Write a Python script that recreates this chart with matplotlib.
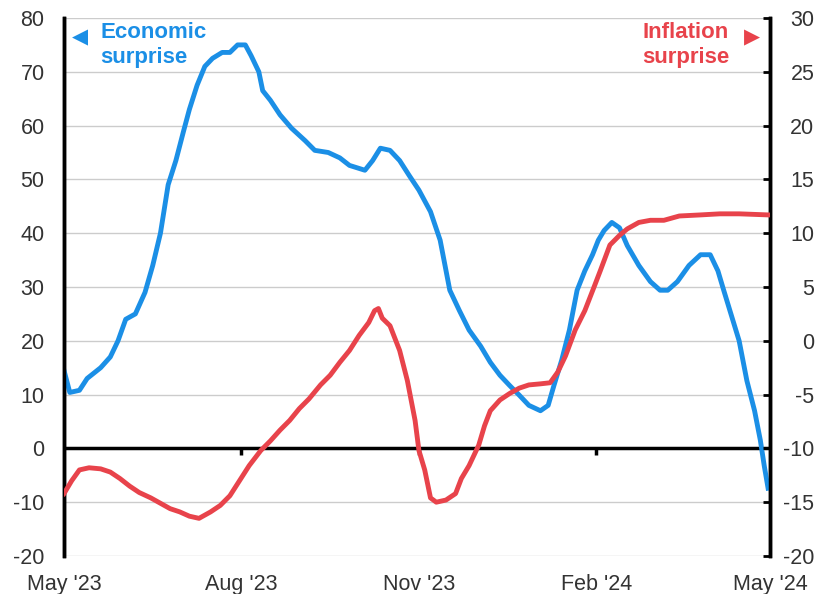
import matplotlib
matplotlib.use('Agg')
import matplotlib.pyplot as plt
import pandas as pd

plt.rcParams['font.family'] = ['Liberation Sans', 'DejaVu Sans']
plt.rcParams['axes.unicode_minus'] = False

start = pd.Timestamp('2023-05-01')

# Economic surprise (left axis), days since 1 May 2023
econ_days = [0, 3, 8, 12, 19, 24, 28, 32, 37, 42, 46, 50, 54, 58, 62, 65, 69, 73, 77, 82,
             86, 90, 94, 97, 101, 103, 107, 112, 118, 125, 130, 137, 143, 148, 156, 160,
             164, 169, 174, 179, 184, 190, 195, 200, 205, 210, 216, 221, 226, 231, 236,
             241, 247, 251, 254, 258, 262, 266, 270, 274, 277, 280, 284, 288, 292, 298,
             304, 309, 313, 318, 324, 330, 335, 339, 342, 346, 350, 354, 358, 361, 363, 365]
econ_vals = [14.5, 10.4, 10.8, 13, 15, 17, 20, 24, 25, 29, 34, 40, 49, 53.5, 59, 63, 67.5,
             71, 72.5, 73.6, 73.6, 75, 75, 73, 70, 66.5, 64.7, 62, 59.5, 57.2, 55.4, 55,
             54, 52.6, 51.7, 53.5, 55.8, 55.4, 53.5, 50.7, 48, 44, 38.7, 29.4, 25.6, 22, 19,
             16, 13.6, 11.7, 9.9, 8, 7, 8, 11.7, 16.4, 22, 29.4, 33, 36, 38.7, 40.5, 42, 41,
             37.7, 34, 31, 29.4, 29.4, 31, 34, 36, 36, 33, 29.4, 24.7, 20, 12.6, 7, 1.5,
             -3.2, -7.4]

# Inflation surprise (right axis), days since 1 May 2023
infl_days = [0, 4, 8, 13, 19, 24, 29, 34, 39, 45, 50, 55, 60, 65, 70, 76, 81, 86, 91, 96,
             102, 107, 112, 117, 122, 127, 133, 138, 143, 148, 153, 158, 161, 163, 165, 169,
             174, 178, 182, 184, 187, 190, 193, 198, 203, 206, 210, 215, 218, 221, 226, 231,
             236, 241, 247, 252, 256, 260, 265, 270, 275, 278, 283, 288, 292, 298, 304, 311,
             319, 330, 340, 350, 365]
infl_vals = [-14.2, -13, -12, -11.8, -11.9, -12.2, -12.8, -13.5, -14.1, -14.6, -15.1, -15.6,
             -15.9, -16.3, -16.5, -15.9, -15.3, -14.4, -13, -11.6, -10.2, -9.3, -8.3, -7.4,
             -6.3, -5.4, -4.1, -3.2, -2, -0.9, 0.5, 1.7, 2.8, 3.0, 2.1, 1.4, -0.9, -3.7, -7.4,
             -10.2, -12, -14.6, -15, -14.8, -14.2, -12.8, -11.6, -9.7, -7.9, -6.5, -5.5, -4.9,
             -4.4, -4.1, -4.0, -3.9, -2.9, -1.4, 1, 2.8, 5.1, 6.5, 8.9, 9.8, 10.4, 11, 11.2,
             11.2, 11.6, 11.7, 11.8, 11.8, 11.7]

tick_dates = ['2023-05-01', '2023-08-01', '2023-11-01', '2024-02-01', '2024-05-01']
tick_labels = ["May '23", "Aug '23", "Nov '23", "Feb '24", "May '24"]

blue = '#1b8fe6'
red = '#e8434b'
label_grey = '#333333'

econ_x = start + pd.to_timedelta(econ_days, unit='D')
infl_x = start + pd.to_timedelta(infl_days, unit='D')
ticks = pd.to_datetime(tick_dates)

W, H = 823, 594
fig = plt.figure(figsize=(W / 100, H / 100), dpi=100)
ax = fig.add_axes([64 / W, 1 - 556 / H, (770 - 64) / W, (556 - 18) / H])
ax2 = ax.twinx()

ax.set_ylim(-20, 80)
ax2.set_ylim(-20, 30)
ax.set_xlim(ticks[0], ticks[-1])

# light gridlines, heavy zero line with small month ticks
for y in range(-20, 81, 10):
    ax.axhline(y, color='#cccccc', lw=1, zorder=0)
ax.axhline(0, color='black', lw=2.5, zorder=1)
ax.vlines(ticks[1:-1], -1.3, 0, color='black', lw=2.5, zorder=1)

ax.plot(econ_x, econ_vals, color=blue, lw=3.5, zorder=3)
ax2.plot(infl_x, infl_vals, color=red, lw=3.5, zorder=3)

ax.set_yticks(range(-20, 81, 10))
ax2.set_yticks(range(-20, 31, 5))
ax.set_xticks(ticks)
ax.set_xticklabels(tick_labels)
ax.tick_params(axis='x', length=0, labelsize=15.5, pad=13, labelcolor=label_grey)
ax.tick_params(axis='y', length=0, labelsize=15.5, pad=14, labelcolor=label_grey)
ax2.tick_params(axis='y', direction='in', length=5, width=2, labelsize=15.5, pad=32,
                labelcolor=label_grey)
for lab in ax2.get_yticklabels():
    lab.set_horizontalalignment('right')

for a in (ax, ax2):
    a.spines['top'].set_visible(False)
    a.spines['bottom'].set_visible(False)
    a.spines['left'].set_linewidth(2.5)
    a.spines['right'].set_linewidth(2.5)
    a.patch.set_visible(False)

fig.text(80 / W, 1 - 37 / H, '\u25C0', color=blue, fontsize=15,
         va='center', ha='center', family='DejaVu Sans')
fig.text(100 / W, 1 - 45 / H, 'Economic\nsurprise', color=blue,
         fontsize=16, fontweight='bold', va='center', ha='left', linespacing=1.2)
fig.text(729 / W, 1 - 45 / H, 'Inflation\nsurprise', color=red,
         fontsize=16, fontweight='bold', va='center', ha='right', linespacing=1.2)
fig.text(752 / W, 1 - 37 / H, '\u25B6', color=red, fontsize=15,
         va='center', ha='center', family='DejaVu Sans')

fig.savefig('out.png', dpi=100)
